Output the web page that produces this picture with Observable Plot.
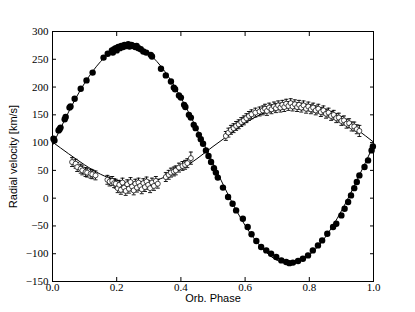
<!DOCTYPE html>
<html>
<head>
<meta charset="utf-8">
<script src="https://cdn.jsdelivr.net/npm/d3@7"></script>
<script src="https://cdn.jsdelivr.net/npm/@observablehq/plot@0.6"></script>
<style>
  html, body { margin: 0; padding: 0; background: #fff; }
</style>
</head>
<body>
<div id="chart"></div>
<script>
// ---- tick labels ----
const xTicks = [0, 0.2, 0.4, 0.6, 0.8, 1.0];
const yTicks = [-150, -100, -50, 0, 50, 100, 150, 200, 250, 300];
const xLabel = "Orb. Phase";
const yLabel = "Radial velocity [km/s]";

// ---- fitted curves (read every 0.05 in phase) ----
const curvePhase = [0, 0.05, 0.1, 0.15, 0.2, 0.25, 0.3, 0.35, 0.4, 0.45, 0.5, 0.55, 0.6, 0.65, 0.7, 0.75, 0.8, 0.85, 0.9, 0.95, 1.0];
const curvePrimary = [95, 155, 207, 246, 270, 274, 260, 228, 181, 124, 63, 3, -49, -88, -112, -116, -102, -70, -23, 34, 95];
const curveSecondary = [101, 80, 60, 43, 32, 27, 29, 38, 52, 71, 93, 114, 135, 151, 162, 167, 165, 156, 142, 123, 101];

// ---- primary observations (filled) ----
const priPhase = [0.003, 0.006, 0.019, 0.022, 0.025, 0.038, 0.041, 0.053, 0.056, 0.069, 0.088, 0.106, 0.125, 0.159, 0.172,
  0.185, 0.188, 0.192, 0.197, 0.200, 0.205, 0.210, 0.214, 0.220, 0.224, 0.230, 0.236, 0.240, 0.246, 0.252, 0.258, 0.262, 0.268, 0.275, 0.283, 0.292,
  0.306, 0.310, 0.338, 0.353, 0.369, 0.378, 0.382, 0.394, 0.400, 0.410, 0.414, 0.425, 0.431, 0.440, 0.446, 0.456, 0.462, 0.469, 0.478, 0.486, 0.494, 0.503, 0.509, 0.515, 0.531, 0.547,
  0.561, 0.572, 0.593, 0.608, 0.620, 0.635, 0.650, 0.666, 0.681, 0.697, 0.713, 0.728, 0.738, 0.749, 0.765, 0.780, 0.796, 0.811, 0.827, 0.840, 0.856, 0.874, 0.884, 0.900, 0.910, 0.921,
  0.930, 0.940, 0.948, 0.956, 0.972, 0.983, 0.994, 0.998];
const priRV = [107, 104, 122, 124, 127, 142, 146, 163, 165, 179, 197, 212, 226, 253, 260,
  266, 262, 268, 270, 266, 272, 270, 274, 272, 276, 274, 277, 273, 276, 274, 272, 274, 270, 268, 264, 262,
  258, 255, 233, 221, 210, 199, 196, 185, 181, 168, 164, 150, 145, 132, 126, 114, 106, 98, 86, 76, 65, 54, 46, 37, 19, 2,
  -10, -22, -37, -52, -65, -77, -88, -94, -100, -106, -112, -115, -117, -116, -113, -109, -103, -94, -85, -76, -64, -52, -46, -31, -19, -7,
  5, 18, 29, 41, 56, 68, 86, 93];

// ---- secondary observations (open, with error bars) ----
const secPhase = [0.061, 0.072, 0.077, 0.088, 0.093, 0.103, 0.108, 0.119, 0.124, 0.134,
  0.171, 0.178, 0.186, 0.192, 0.197, 0.203, 0.208, 0.213, 0.218, 0.223, 0.228, 0.233, 0.238, 0.243, 0.248, 0.253, 0.258, 0.263, 0.268, 0.273, 0.278, 0.283, 0.288, 0.293, 0.298, 0.304, 0.310, 0.316, 0.322, 0.328,
  0.353, 0.362, 0.369, 0.378, 0.384, 0.394, 0.405, 0.413, 0.420, 0.431,
  0.540, 0.548, 0.556, 0.564, 0.572, 0.580, 0.588, 0.596, 0.604, 0.612, 0.620, 0.632, 0.645, 0.655, 0.662, 0.668, 0.675, 0.682, 0.690, 0.696, 0.703, 0.710, 0.716, 0.722, 0.728, 0.735, 0.742, 0.748, 0.755, 0.762, 0.768, 0.775, 0.782, 0.790, 0.797, 0.805, 0.812, 0.820, 0.828, 0.836, 0.844, 0.852, 0.860, 0.868, 0.876, 0.884, 0.892, 0.900, 0.908, 0.916, 0.924, 0.932, 0.940, 0.948, 0.956];
const secRV = [65, 62, 56, 53, 50, 47, 46, 44, 43, 41,
  33, 30, 31, 27, 26, 18, 24, 15, 28, 19, 13, 25, 17, 29, 21, 14, 26, 19, 28, 22, 16, 27, 20, 30, 24, 18, 28, 22, 31, 26,
  38, 42, 46, 48, 50, 55, 58, 60, 63, 72,
  112, 118, 123, 126, 130, 133, 137, 140, 144, 148, 151, 154, 156, 158, 161, 157, 163, 160, 165, 162, 167, 163, 168, 164, 170, 166, 171, 165, 169, 164, 168, 163, 167, 161, 165, 160, 163, 158, 161, 155, 158, 152, 154, 148, 150, 144, 145, 139, 140, 134, 135, 129, 129, 124, 121];
const secErr = [8, 8, 8, 8, 8, 8, 8, 8, 8, 8,
  8, 8, 8, 8, 8, 8, 8, 8, 8, 8, 8, 8, 8, 8, 8, 8, 8, 8, 8, 8, 8, 8, 8, 8, 8, 8, 8, 8, 8, 8,
  8, 8, 8, 8, 8, 8, 8, 8, 8, 11,
  8, 8, 8, 8, 8, 8, 8, 8, 8, 8, 8, 8, 8, 8, 8, 8, 8, 8, 8, 8, 8, 8, 8, 8, 8, 8, 8, 8, 8, 8, 8, 8, 8, 8, 8, 8, 8, 8, 8, 8, 8, 8, 8, 8, 8, 8, 8, 8, 8, 8, 8, 8, 8, 8, 10];

// ---- build tables ----
const curve = curvePhase.map((p, i) => ({phase: p, pri: curvePrimary[i], sec: curveSecondary[i]}));
const pri = priPhase.map((p, i) => ({phase: p, rv: priRV[i]}));
const sec = secPhase.map((p, i) => ({phase: p, rv: secRV[i], lo: secRV[i] - secErr[i], hi: secRV[i] + secErr[i]}));

const capSymbol = {
  draw(ctx, size) {
    const w = Math.sqrt(size / Math.PI);
    ctx.moveTo(-w, 0);
    ctx.lineTo(w, 0);
  }
};

const serif = "'Liberation Serif', 'DejaVu Serif', serif";
const sans = "'Liberation Sans', Arial, sans-serif";
const fmtY = d => (d < 0 ? "\u2212" + Math.abs(d) : String(d));

const chart = Plot.plot({
  width: 415,
  height: 312,
  marginLeft: 52,
  marginRight: 42,
  marginTop: 31,
  marginBottom: 31,
  style: {background: "#fff", color: "#000", overflow: "visible"},
  x: {domain: [0, 1], label: null},
  y: {domain: [-150, 300], label: null},
  marks: [
    Plot.line(curve, {x: "phase", y: "pri", curve: "natural", stroke: "black", strokeWidth: 1}),
    Plot.line(curve, {x: "phase", y: "sec", curve: "natural", stroke: "black", strokeWidth: 1}),
    Plot.ruleX(sec, {x: "phase", y1: "lo", y2: "hi", stroke: "black", strokeWidth: 0.9}),
    Plot.dot(sec, {x: "phase", y: "hi", symbol: capSymbol, r: 2, stroke: "black", strokeWidth: 0.9}),
    Plot.dot(sec, {x: "phase", y: "lo", symbol: capSymbol, r: 2, stroke: "black", strokeWidth: 0.9}),
    Plot.dot(sec, {x: "phase", y: "rv", r: 2.5, fill: "white", stroke: "black", strokeWidth: 0.7}),
    Plot.dot(pri, {x: "phase", y: "rv", r: 3.2, fill: "black", stroke: "none"}),
    Plot.frame({stroke: "black", strokeWidth: 1}),
    Plot.axisX({ticks: xTicks, tickFormat: d => d.toFixed(1), tickSize: -4, tickPadding: 6, fontFamily: serif, fontSize: 11, label: null}),
    Plot.axisX({anchor: "top", ticks: xTicks, tickFormat: () => "", tickSize: -4, label: null}),
    Plot.axisY({ticks: yTicks, tickFormat: fmtY, tickSize: -4, tickPadding: 8, fontFamily: serif, fontSize: 11, label: null}),
    Plot.axisY({anchor: "right", ticks: yTicks, tickFormat: () => "", tickSize: -4, label: null}),
    Plot.text([xLabel], {text: d => d, frameAnchor: "bottom", dy: 17, fontFamily: sans, fontSize: 11, textAnchor: "middle", lineAnchor: "middle"}),
    Plot.text([yLabel], {text: d => d, frameAnchor: "left", dx: -39, rotate: -90, fontFamily: sans, fontSize: 11, textAnchor: "middle", lineAnchor: "middle"})
  ]
});
document.getElementById("chart").appendChild(chart);
</script>
</body>
</html>
